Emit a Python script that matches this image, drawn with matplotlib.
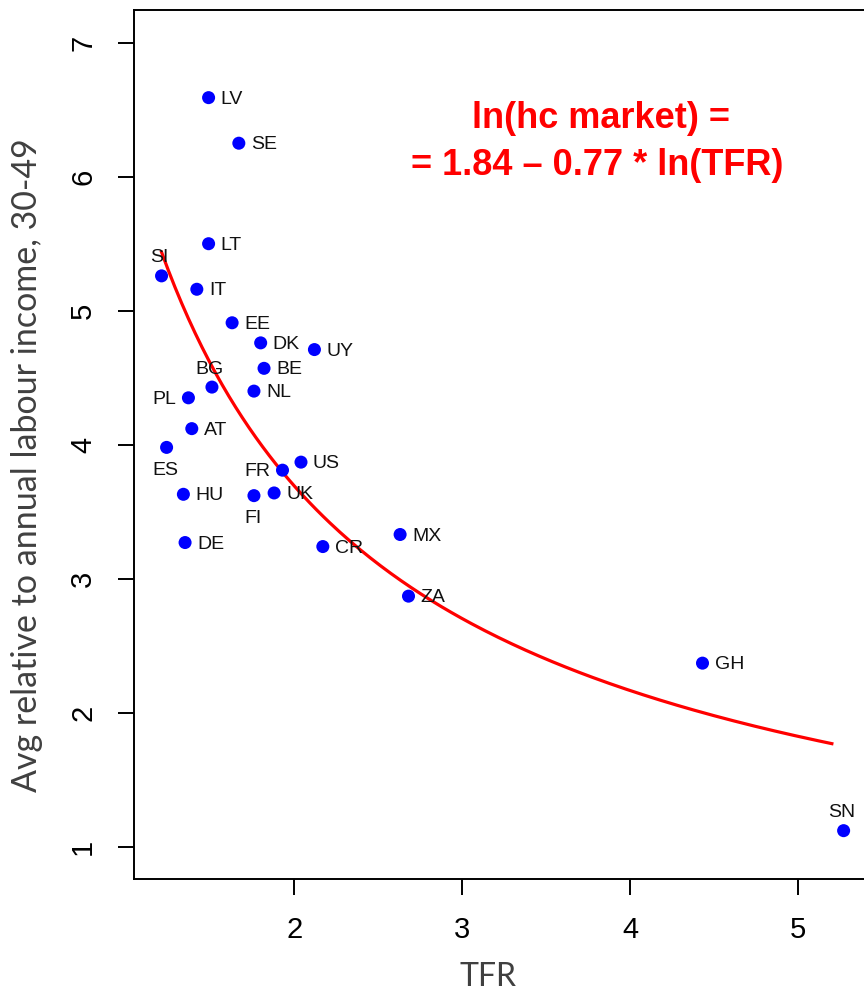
import numpy as np
import matplotlib.pyplot as plt

# countries, TFR and avg relative human-capital market spending (30-49)
countries = ['LV', 'SE', 'LT', 'SI', 'IT', 'EE', 'DK', 'UY', 'BE', 'BG',
             'NL', 'PL', 'AT', 'ES', 'US', 'FR', 'UK', 'HU', 'FI', 'DE',
             'CR', 'MX', 'ZA', 'GH', 'SN']
tfr = [1.49, 1.67, 1.49, 1.21, 1.42, 1.63, 1.80, 2.12, 1.82, 1.51,
       1.76, 1.37, 1.39, 1.24, 2.04, 1.93, 1.88, 1.34, 1.76, 1.35,
       2.17, 2.63, 2.68, 4.43, 5.27]
hc = [6.59, 6.25, 5.50, 5.26, 5.16, 4.91, 4.76, 4.71, 4.57, 4.43,
      4.40, 4.35, 4.12, 3.98, 3.87, 3.81, 3.64, 3.63, 3.62, 3.27,
      3.24, 3.33, 2.87, 2.37, 1.12]
# label side for each point: r=right, l=left, a=above, b=below
label_pos = ['r', 'r', 'r', 'a', 'r', 'r', 'r', 'r', 'r', 'a',
             'r', 'l', 'r', 'b', 'r', 'l', 'r', 'r', 'b', 'r',
             'r', 'r', 'r', 'r', 'a']

# fitted model: ln(hc) = a + b * ln(TFR)
fit_a, fit_b = 1.84, -0.77
fit_range = [1.21, 5.2]

xticks = [2, 3, 4, 5]
yticks = [1, 2, 3, 4, 5, 6, 7]

W, H = 864, 993
fig = plt.figure(figsize=(W / 100, H / 100), dpi=100)
ax = fig.add_axes([134 / W, (H - 879.3) / H, 736.5 / W, 869.3 / H])

xs = np.linspace(fit_range[0], fit_range[1], 200)
ax.plot(xs, np.exp(fit_a + fit_b * np.log(xs)), color='#ff0000', lw=2.3, zorder=2)
ax.scatter(tfr, hc, s=88, color='#0000ff', edgecolors='none', zorder=3)

offsets = {'r': (12, -1.5, 'left', 'center'), 'l': (-12, -1.5, 'right', 'center'),
           'a': (-2, 18, 'center', 'center'), 'b': (-1, -23, 'center', 'center')}
for name, x, y, p in zip(countries, tfr, hc, label_pos):
    dx, dy, ha, va = offsets[p]
    ax.annotate(name, (x, y), xytext=(dx, dy), textcoords='offset pixels',
                ha=ha, va=va, fontsize=14, family='Liberation Sans', color='#111111')

ax.set_xlim(1.046, 5.43)
ax.set_ylim(0.757, 7.244)
ax.set_xticks(xticks)
ax.set_yticks(yticks)
ax.tick_params(length=11.5, width=1.4, labelsize=21, direction='out')
ax.tick_params(axis='x', pad=15)
ax.tick_params(axis='y', pad=15)
for lab in ax.get_xticklabels() + ax.get_yticklabels():
    lab.set_family('Liberation Sans')
for lab in ax.get_yticklabels():
    lab.set_rotation(90)
    lab.set_va('center')
for sp in ax.spines.values():
    sp.set_linewidth(1.4)

fig.text(27 / W, 1 - 465 / H, 'Avg relative to annual labour income, 30-49',
         rotation=90, ha='center', va='center', fontsize=24.5, family='Lato', color='#404040')
fig.text(488 / W, 1 - 986 / H, 'TFR', ha='center', va='baseline',
         fontsize=23, family='Lato', color='#404040')

fig.text(601 / W, 1 - 118 / H, 'ln(hc market) =', ha='center', va='center',
         fontsize=26, fontweight='bold', family='Liberation Sans', color='#ff0000')
fig.text(597 / W, 1 - 165 / H, '= 1.84 \u2013 0.77 * ln(TFR)', ha='center', va='center',
         fontsize=26, fontweight='bold', family='Liberation Sans', color='#ff0000')

fig.savefig('out.png', dpi=100)
